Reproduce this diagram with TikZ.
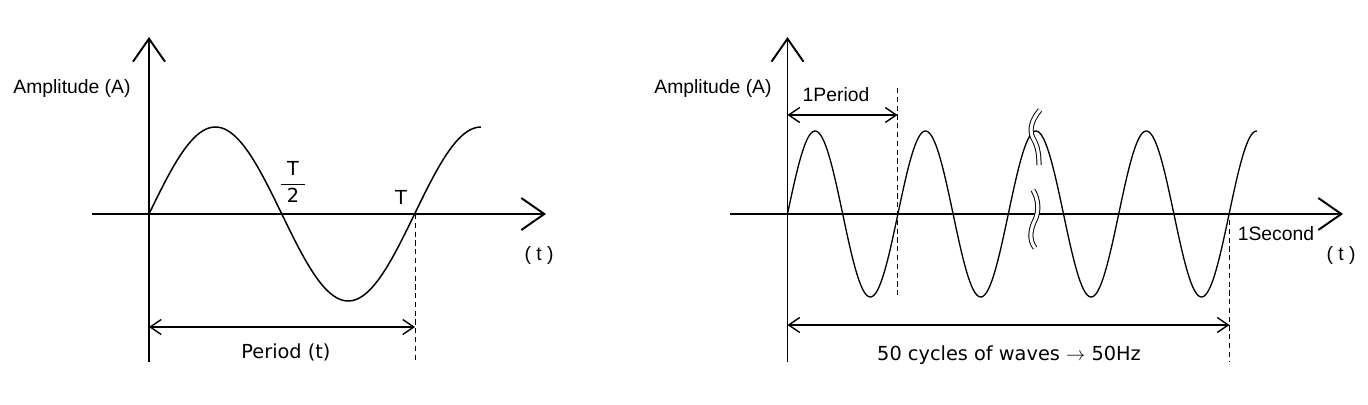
\documentclass[tikz,border=0pt]{standalone}
\usepackage{fontspec}
\setmainfont{Liberation Sans}
\newfontfamily\widefont{DejaVu Sans}
\usetikzlibrary{arrows.meta}
\definecolor{ink}{RGB}{0,0,0}
\tikzset{
  axis/.style={draw=ink,line width=1.1pt,-{Straight Barb[length=4.6mm,width=6.4mm]}},
  wave/.style={draw=ink,line width=#1},
  wave/.default=0.85pt,
  span/.style={draw=ink,line width=0.8pt,
    {Straight Barb[length=2.2mm,width=3mm]}-{Straight Barb[length=2.2mm,width=3mm]}},
  guide/.style={draw=ink,line width=0.55pt,dash pattern=on 3pt off 2pt},
  lbl/.style={font=\fontsize{11}{13}\selectfont,text=ink,inner sep=0pt},
  wlbl/.style={font=\fontsize{11}{13}\selectfont\widefont,text=ink,inner sep=0pt},
  cut/.style={draw=ink,double=white,double distance=1.8pt,line width=0.55pt},
}
\begin{document}
\begin{tikzpicture}[x=0.2mm,y=-0.2mm]
  \useasboundingbox (0,0) rectangle (1368,405);
  % one period
  \coordinate (o1) at (149,214);
  \coordinate (T1) at (415,214);
  \draw[axis] (92,214) -- (546,214);
  \draw[axis] (149,362) -- (149,37);
  \draw[wave] plot[domain=149:481,samples=120] (\x,{214-87*sin((\x-149)/265.6*360)});
  \coordinate (p1a) at (149,327);
  \coordinate (p1b) at (415,327);
  \draw[guide] (T1) -- (415,362);
  \draw[span] (p1a) -- (p1b);
  \node[lbl] (amp1) at (72,89) {Amplitude (A)};
  \node[wlbl] (half) at (293,182) {$\displaystyle\frac{\hbox to 14pt{\hfil T\hfil}}{\hbox to 14pt{\hfil 2\hfil}}$};
  \node[wlbl] (tT) at (401,197) {T};
  \node[lbl] (t1) at (539,255) {( t )};
  \node[wlbl] (per) at (286,352) {Period (t)};
  % one second
  \coordinate (o2) at (787.5,214);
  \draw[axis] (730,214) -- (1343,214);
  \draw[axis] (787.5,362) -- (787.5,37);
  \draw[wave=0.75pt] plot[domain=787.5:1257,samples=320] (\x,{214-83*sin((\x-787.5)/110.4*360)});
  \draw[cut] (1040,110) .. controls (1030,122) and (1029,132) .. (1034,140)
    .. controls (1038,147) and (1039,156) .. (1039,165);
  \draw[cut] (1033,190) .. controls (1039,200) and (1039,212) .. (1035,220)
    .. controls (1030,230) and (1029,240) .. (1035,248);
  \coordinate (q1a) at (787.5,115);
  \coordinate (q1b) at (897.5,115);
  \coordinate (q2a) at (787.5,325);
  \coordinate (q2b) at (1229.5,325);
  \draw[guide] (897.5,88) -- (897.5,296);
  \draw[guide] (1229.5,220) -- (1229.5,362);
  \draw[span] (q1a) -- (q1b);
  \draw[span] (q2a) -- (q2b);
  \node[lbl] (amp2) at (713,89) {Amplitude (A)};
  \node[lbl] (oneper) at (836,95) {1Period};
  \node[lbl] (onesec) at (1276,234) {1Second};
  \node[lbl] (t2) at (1341,255) {( t )};
  \node[wlbl] (hz) at (1009,355) {50 cycles of waves $\rightarrow$ 50Hz};
\end{tikzpicture}
\end{document}
